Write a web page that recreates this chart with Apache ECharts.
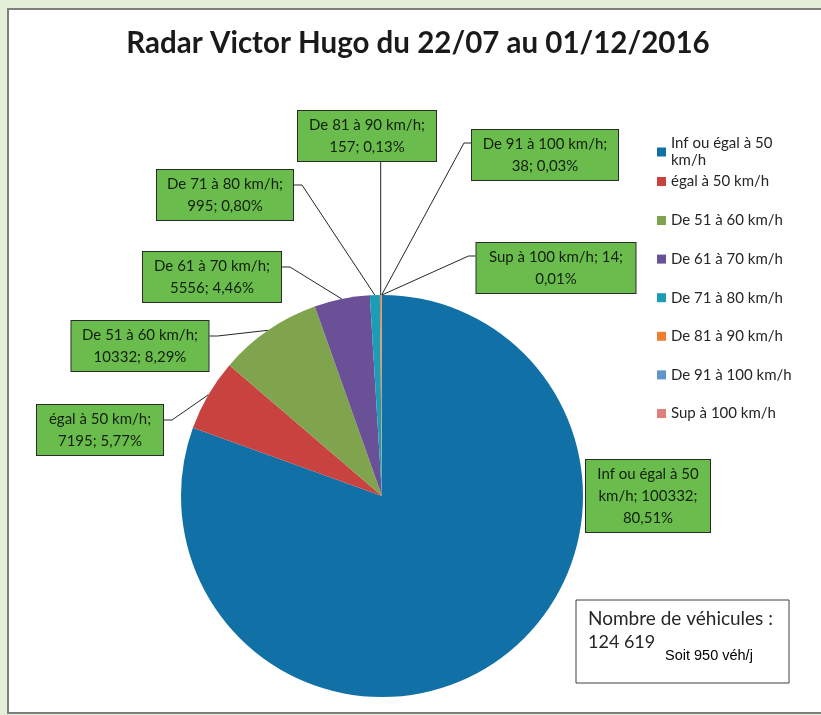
<!DOCTYPE html>
<html>
<head>
<meta charset="utf-8">
<script src="https://cdn.jsdelivr.net/npm/echarts@6.0.0/dist/echarts.min.js"></script>
<style>
  html, body { margin: 0; padding: 0; background: #e2efd9; }
  #main { width: 821px; height: 715px; }
</style>
</head>
<body>
<div id="main"></div>
<script>
var categories = ['Inf ou égal à 50 km/h', 'égal à 50 km/h', 'De 51 à 60 km/h', 'De 61 à 70 km/h',
    'De 71 à 80 km/h', 'De 81 à 90 km/h', 'De 91 à 100 km/h', 'Sup à 100 km/h'];
var vehicles = [100332, 7195, 10332, 5556, 995, 157, 38, 14];
var totalText = '124 619';
var dailyText = 'Soit 950 véh/j';

var colors = ['#1170a5', '#c8433f', '#80a44e', '#6a5096', '#1b9db6', '#ef7e30', '#5f95c8', '#e07e7e'];

// where each green label box sits (centre), its width,
// and which side the leader line comes in
var labelBoxes = [
    {cx: 648, cy: 496, w: 124, side: 'none'},
    {cx: 100, cy: 430, w: 126, side: 'left'},
    {cx: 140, cy: 346, w: 137, side: 'left'},
    {cx: 212, cy: 277, w: 138, side: 'left'},
    {cx: 225, cy: 195, w: 136, side: 'left'},
    {cx: 367, cy: 136, w: 138, side: 'top'},
    {cx: 545, cy: 155, w: 146, side: 'right'},
    {cx: 556, cy: 268, w: 159, side: 'right'}
];

var LABEL_FONT = '15px Lato';
var LABEL_PAD = 2;

var total = vehicles.reduce(function (s, v) { return s + v; }, 0);

function pct(v) {
    return (v / total * 100).toFixed(2).replace('.', ',');
}

// wrap on spaces only, like Excel does in its label boxes
var measureCtx = document.createElement('canvas').getContext('2d');
measureCtx.font = LABEL_FONT;
function wrapText(text, maxW) {
    var words = text.split(' ');
    var lines = [];
    var cur = '';
    words.forEach(function (w) {
        var test = cur ? cur + ' ' + w : w;
        if (cur && measureCtx.measureText(test).width > maxW) {
            lines.push(cur);
            cur = w;
        } else {
            cur = test;
        }
    });
    if (cur) lines.push(cur);
    return lines.join('\n');
}

var pieData = categories.map(function (name, i) {
    var b = labelBoxes[i];
    var item = {
        name: name,
        value: vehicles[i],
        itemStyle: {color: colors[i]},
        label: {width: b.w - 2 * LABEL_PAD}
    };
    if (b.side === 'none') {
        item.labelLine = {show: false};
    }
    return item;
});

var myChart = echarts.init(document.getElementById('main'));

var option = {
    animation: false,
    backgroundColor: '#e2efd9',
    title: {
        text: 'Radar Victor Hugo du 22/07 au 01/12/2016',
        left: 413,
        top: 23,
        textAlign: 'center',
        textStyle: {
            fontFamily: 'Lato',
            fontWeight: 'bold',
            fontSize: 29.5,
            color: '#1a1a1a'
        }
    },
    legend: [
        {
            orient: 'vertical',
            left: 652,
            top: 130,
            itemWidth: 9,
            itemHeight: 9,
            itemGap: 4,
            icon: 'rect',
            data: categories.slice(0, 2),
            textStyle: {
                fontFamily: 'Lato',
                fontSize: 15,
                color: '#262626',
                lineHeight: 17,
                width: 125,
                overflow: 'break'
            }
        },
        {
            orient: 'vertical',
            left: 652,
            top: 207,
            itemWidth: 9,
            itemHeight: 9,
            itemGap: 21.6,
            icon: 'rect',
            data: categories.slice(2),
            textStyle: {
                fontFamily: 'Lato',
                fontSize: 15,
                color: '#262626',
                lineHeight: 17
            }
        }
    ],
    graphic: [
        {
            type: 'rect',
            z: -10,
            shape: {x: 8, y: 9, width: 830, height: 704},
            style: {fill: '#ffffff', stroke: '#7f7f7f', lineWidth: 2}
        },
        {
            type: 'rect',
            shape: {x: 576, y: 600, width: 213, height: 83},
            style: {fill: '#ffffff', stroke: '#404040', lineWidth: 1}
        },
        {
            type: 'text',
            x: 588,
            y: 609,
            style: {text: 'Nombre de véhicules :', font: '19px Lato', fill: '#262626'}
        },
        {
            type: 'text',
            x: 588,
            y: 633,
            style: {text: totalText, font: '18px Lato', fill: '#262626'}
        },
        {
            type: 'text',
            x: 665,
            y: 648,
            style: {text: dailyText, font: '14.5px "Liberation Sans"', fill: '#000000'}
        }
    ],
    series: [
        {
            name: 'Radar Victor Hugo',
            type: 'pie',
            center: [382, 496],
            radius: 201,
            startAngle: 90,
            clockwise: true,
            avoidLabelOverlap: false,
            itemStyle: {borderWidth: 0},
            emphasis: {disabled: true},
            label: {
                show: true,
                position: 'outside',
                fontFamily: 'Lato',
                fontSize: 15,
                lineHeight: 22,
                color: '#14200f',
                align: 'center',
                overflow: 'none',
                padding: [3, LABEL_PAD],
                backgroundColor: '#6abd4c',
                borderColor: '#2b2b2b',
                borderWidth: 1,
                formatter: function (p) {
                    var txt = p.name + '; ' + p.value + '; ' + pct(p.value) + '%';
                    return wrapText(txt, labelBoxes[p.dataIndex].w - 2 * LABEL_PAD);
                }
            },
            labelLine: {
                show: true,
                lineStyle: {color: '#262626', width: 1}
            },
            labelLayout: function (params) {
                var b = labelBoxes[params.dataIndex];
                var r = params.labelRect;
                var left = b.cx - r.width / 2;
                var right = b.cx + r.width / 2;
                var bottom = b.cy + r.height / 2;
                var a = params.labelLinePoints ? params.labelLinePoints[0] : null;
                var pts;
                if (a) {
                    if (b.side === 'left') {
                        pts = [a, [right + 8, b.cy - 10], [right, b.cy - 10]];
                    } else if (b.side === 'right') {
                        pts = [a, [left - 7, b.cy - 12], [left, b.cy - 12]];
                    } else if (b.side === 'top') {
                        pts = [a, [a[0], bottom], [a[0], bottom]];
                    }
                }
                return {
                    x: b.cx,
                    y: b.cy,
                    align: 'center',
                    verticalAlign: 'middle',
                    labelLinePoints: pts
                };
            },
            data: pieData
        }
    ]
};

myChart.setOption(option);
</script>
</body>
</html>
